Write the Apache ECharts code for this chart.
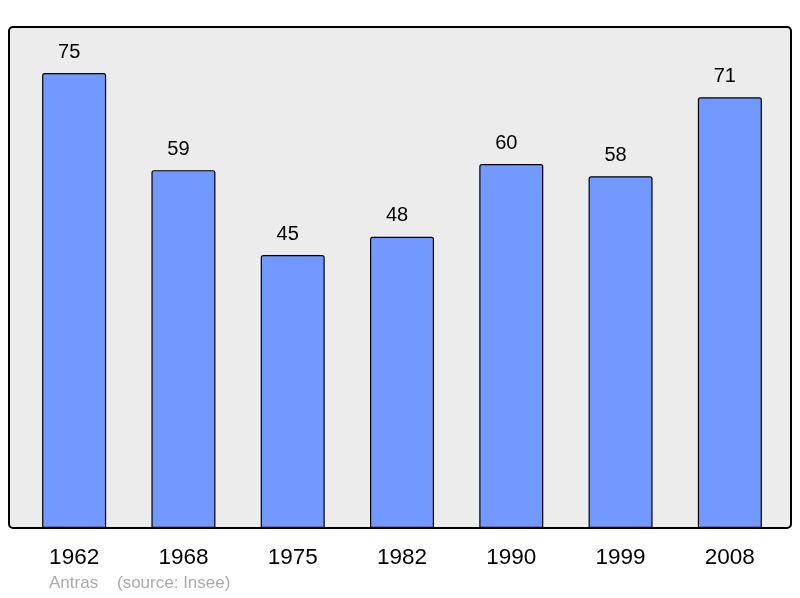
<!DOCTYPE html>
<html><head><meta charset="utf-8">
<script src="https://cdn.jsdelivr.net/npm/echarts@6/dist/echarts.min.js"></script>
<style>html,body{margin:0;padding:0;background:#fff}#c{width:800px;height:598px}</style>
</head><body><div id="c"></div>
<script>
const categories = ['1962','1968','1975','1982','1990','1999','2008'];
const values = [75, 59, 45, 48, 60, 58, 71];
const footerName = 'Antras';
const footerSource = '(source: Insee)';

const FONT = 'Liberation Sans, Arial, sans-serif';
const chart = echarts.init(document.getElementById('c'), null, {renderer:'canvas'});
chart.setOption({
  animation: false,
  backgroundColor: '#ffffff',
  textStyle: {fontFamily: FONT},
  graphic: [
    {type:'rect', z:-10, shape:{x:9, y:27, width:782, height:501, r:4},
     style:{fill:'#ececec', stroke:'#000', lineWidth:2}},
    {type:'text', left:49, top:575, style:{text:footerName, fill:'#aaaaaa', font:'17px ' + FONT}},
    {type:'text', left:117, top:575, style:{text:footerSource, fill:'#aaaaaa', font:'17px ' + FONT}}
  ],
  grid: {left:19.5, right:15.5, top:27, bottom:70, containLabel:false},
  xAxis: {type:'category', data:categories,
    axisLine:{show:false}, axisTick:{show:false},
    axisLabel:{margin:18, fontSize:22.5, color:'#000', fontFamily:FONT}},
  yAxis: {type:'value', min:0, max:82.6, show:false, splitLine:{show:false}},
  series: [{
    type:'bar', data:values, barWidth:64, z:5,
    itemStyle:{color:'#7299ff', borderColor:'#000', borderWidth:1.2, borderRadius:[2,2,0,0]},
    label:{show:true, position:'top', distance:11, offset:[-5,0], fontSize:20, color:'#000', fontFamily:FONT}
  }]
});
</script></body></html>
